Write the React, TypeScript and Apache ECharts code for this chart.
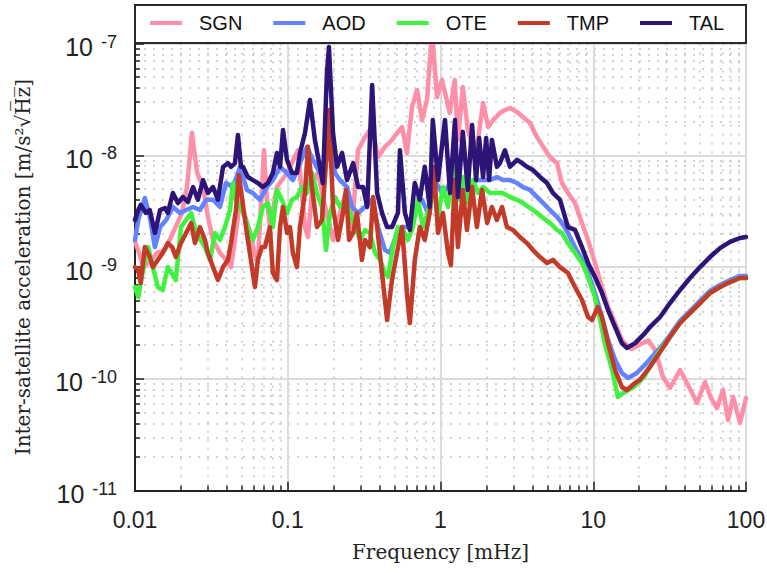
import React, { useEffect, useRef } from 'react';
import * as echarts from 'echarts';

const SERIES_NAMES = ['SGN', 'AOD', 'OTE', 'TMP', 'TAL'];
const SERIES_COLORS = ['#ff8fa9', '#6382ff', '#3ff23f', '#c23a28', '#2c1577'];
const X_TICK_LABELS = ['0.01', '0.1', '1', '10', '100'];
const Y_TICK_EXPONENTS = ['-11', '-10', '-9', '-8', '-7'];

const SGN_DATA = [
  [0.01, 1.7e-9], [0.0107, 1.3e-9], [0.0113, 1.0e-9], [0.0125, 1.11e-9], [0.0139, 1.34e-9], [0.0157, 1.42e-9],
  [0.0177, 2.02e-9], [0.0203, 3.05e-9], [0.0219, 5.2e-9], [0.0236, 1.58e-8], [0.0255, 6.95e-9], [0.0279, 5.2e-9],
  [0.03, 2.81e-9], [0.0324, 1.75e-9], [0.036, 1.34e-9], [0.0394, 1.16e-9], [0.0425, 1.0e-9], [0.0451, 1.75e-9],
  [0.0487, 4.0e-9], [0.0566, 2.02e-9], [0.061, 1.28e-9], [0.0637, 1.11e-9], [0.0699, 1.11e-8], [0.073, 4.0e-9],
  [0.0764, 2.28e-9], [0.085, 5.2e-9], [0.0989, 6.95e-9], [0.1167, 1.11e-8], [0.1296, 2.28e-9], [0.1357, 1.86e-9],
  [0.1463, 6.0e-9], [0.1578, 6.95e-9], [0.17, 4.24e-9], [0.1979, 1.75e-9], [0.2198, 3.05e-9], [0.2444, 5.2e-9],
  [0.2634, 2.28e-9], [0.2884, 1.11e-8], [0.3205, 1.46e-8], [0.356, 1.79e-8], [0.39, 9.65e-9], [0.433, 1.19e-8],
  [0.481, 1.37e-8], [0.519, 1.58e-8], [0.56, 1.79e-8], [0.603, 1.05e-8], [0.651, 2.71e-8], [0.702, 3.84e-8],
  [0.757, 2.07e-8], [0.816, 3.12e-8], [0.88, 1.3e-7], [0.949, 3.32e-8], [1.023, 4.72e-8], [1.15, 2.39e-8],
  [1.24, 4.72e-8], [1.3, 1.37e-8], [1.4, 4.08e-8], [1.51, 1.68e-8], [1.63, 1.19e-8], [1.76, 1.37e-8],
  [1.9, 2.94e-8], [2.05, 1.79e-8], [2.21, 2.07e-8], [2.45, 2.39e-8], [2.64, 2.54e-8], [2.85, 2.65e-8],
  [3.17, 2.44e-8], [3.47, 2.2e-8], [3.85, 1.95e-8], [4.28, 1.46e-8], [4.7, 1.19e-8], [5.21, 9.65e-9],
  [5.79, 8.5e-9], [6.24, 5.65e-9], [6.83, 4.6e-9], [7.59, 3.74e-9], [8.44, 2.48e-9], [9.24, 1.75e-9],
  [10.26, 1.09e-9], [11.4, 6.64e-10], [12.5, 4.4e-10], [13.9, 3.16e-10], [15.4, 2.23e-10], [16.6, 2.01e-10],
  [17.8, 1.85e-10], [21.1, 2.09e-10], [23.0, 2.2e-10], [25.4, 1.81e-10], [28.6, 1.04e-10], [31.8, 8.29e-11],
  [37, 1.2e-10], [41.7, 8.82e-11], [47.8, 6.09e-11], [53.9, 9.39e-11], [59, 6.75e-11], [64.6, 5.49e-11],
  [70.7, 7.96e-11], [76.3, 4.29e-11], [82.4, 6.89e-11], [91.3, 4.03e-11], [100, 6.75e-11],
];

const AOD_DATA = [
  [0.01, 1.75e-9], [0.0105, 2.64e-9], [0.0116, 4.15e-9], [0.0125, 2.81e-9], [0.0135, 1.51e-9], [0.0146, 2.28e-9],
  [0.016, 2.64e-9], [0.0177, 3.45e-9], [0.0197, 3.05e-9], [0.0216, 3.24e-9], [0.024, 3.45e-9], [0.0266, 3.24e-9],
  [0.0292, 4.0e-9], [0.0324, 4.0e-9], [0.036, 3.45e-9], [0.0394, 5.65e-9], [0.0438, 5.2e-9], [0.0487, 7.86e-9],
  [0.0541, 4.9e-9], [0.0591, 4.6e-9], [0.0657, 4.0e-9], [0.073, 5.2e-9], [0.0799, 6.0e-9], [0.089, 7.86e-9],
  [0.0989, 6.95e-9], [0.1081, 6.0e-9], [0.1202, 8.5e-9], [0.1336, 1.19e-8], [0.1463, 9.08e-9], [0.1623, 6.95e-9],
  [0.1805, 9.08e-9], [0.189, 1.37e-8], [0.2037, 6.95e-9], [0.2198, 6.0e-9], [0.2444, 5.2e-9], [0.2634, 3.45e-9],
  [0.2884, 3.05e-9], [0.3205, 3.45e-9], [0.356, 4.0e-9], [0.39, 2.28e-9], [0.433, 1.42e-9], [0.467, 1.34e-9],
  [0.519, 2.02e-9], [0.56, 2.28e-9], [0.612, 2.28e-9], [0.679, 3.45e-9], [0.757, 4.0e-9], [0.826, 3.05e-9],
  [0.916, 6.0e-9], [1.023, 4.6e-9], [1.12, 5.2e-9], [1.21, 6.95e-9], [1.28, 4.9e-9], [1.4, 6.0e-9],
  [1.56, 5.2e-9], [1.73, 6.0e-9], [1.9, 6.0e-9], [2.11, 6.0e-9], [2.34, 6.4e-9], [2.56, 6.0e-9],
  [2.85, 6.0e-9], [3.17, 5.65e-9], [3.47, 5.2e-9], [3.85, 4.9e-9], [4.28, 4.24e-9], [4.7, 3.74e-9],
  [5.21, 3.24e-9], [5.79, 2.81e-9], [6.24, 2.48e-9], [6.83, 2.02e-9], [7.59, 1.51e-9], [8.44, 1.16e-9],
  [9.24, 8.86e-10], [10.26, 5.87e-10], [11.4, 3.58e-10], [12.5, 2.23e-10], [13.9, 1.48e-10], [15.4, 1.13e-10],
  [16.9, 1.02e-10], [19.3, 1.13e-10], [22.4, 1.39e-10], [25.4, 1.7e-10], [27.4, 1.89e-10], [31.8, 2.47e-10],
  [37, 3.3e-10], [43, 4.05e-10], [50, 4.98e-10], [58.1, 6.12e-10], [67.6, 6.92e-10], [78.6, 7.66e-10],
  [91.3, 8.34e-10], [100, 8.34e-10],
];

const OTE_DATA = [
  [0.01, 6.64e-10], [0.0105, 5.4e-10], [0.0113, 9.4e-10], [0.0122, 1.51e-9], [0.0131, 1.0e-9], [0.0141, 6.64e-10],
  [0.0152, 6.24e-10], [0.0164, 1.0e-9], [0.0177, 8.5e-10], [0.0185, 7.66e-10], [0.02, 2.28e-9], [0.0216, 2.64e-9],
  [0.0233, 3.05e-9], [0.0251, 2.02e-9], [0.0287, 1.51e-9], [0.031, 1.16e-9], [0.0334, 2.02e-9], [0.036, 1.75e-9],
  [0.0388, 2.28e-9], [0.0419, 3.24e-9], [0.0438, 5.65e-9], [0.0458, 4.0e-9], [0.0487, 3.45e-9], [0.0525, 2.81e-9],
  [0.0566, 2.02e-9], [0.0591, 1.75e-9], [0.0637, 2.28e-9], [0.0687, 3.45e-9], [0.0741, 3.74e-9], [0.0799, 2.28e-9],
  [0.085, 4.9e-9], [0.0916, 4.0e-9], [0.0989, 3.05e-9], [0.1066, 4.0e-9], [0.1149, 4.24e-9], [0.1239, 5.2e-9],
  [0.1336, 4.6e-9], [0.1441, 6.95e-9], [0.1554, 4.6e-9], [0.1675, 3.45e-9], [0.178, 1.42e-9], [0.189, 3.05e-9],
  [0.2037, 4.24e-9], [0.2198, 3.45e-9], [0.237, 4.0e-9], [0.2555, 3.05e-9], [0.2756, 2.28e-9], [0.2972, 1.75e-9],
  [0.3205, 2.15e-9], [0.3456, 2.02e-9], [0.3727, 1.34e-9], [0.4019, 1.16e-9], [0.433, 8.86e-10], [0.453, 8.16e-10],
  [0.489, 1.51e-9], [0.527, 2.28e-9], [0.568, 2.15e-9], [0.612, 1.75e-9], [0.66, 2.28e-9], [0.712, 4.0e-9],
  [0.768, 2.28e-9], [0.826, 3.05e-9], [0.893, 5.2e-9], [0.963, 2.81e-9], [1.038, 5.2e-9], [1.12, 3.45e-9],
  [1.21, 7.86e-9], [1.3, 4.0e-9], [1.4, 6.4e-9], [1.51, 3.74e-9], [1.63, 6.0e-9], [1.76, 4.6e-9],
  [1.9, 5.2e-9], [2.11, 4.6e-9], [2.34, 4.6e-9], [2.56, 4.6e-9], [2.85, 4.24e-9], [3.17, 4.0e-9],
  [3.47, 3.74e-9], [3.85, 3.38e-9], [4.28, 3.05e-9], [4.7, 2.75e-9], [5.21, 2.48e-9], [5.79, 2.15e-9],
  [6.24, 2.02e-9], [6.83, 1.64e-9], [7.59, 1.34e-9], [8.44, 1.09e-9], [9.24, 8.16e-10], [10.26, 5.4e-10],
  [11.0, 3.58e-10], [11.9, 2.09e-10], [13.3, 1.2e-10], [14.5, 6.89e-11], [15.7, 7.49e-11], [18.4, 8.46e-11],
  [21.5, 1.04e-10], [24.3, 1.39e-10], [27.4, 1.81e-10], [31.8, 2.37e-10], [37, 3.16e-10], [43, 3.89e-10],
  [50, 4.77e-10], [58.1, 5.87e-10], [67.6, 6.64e-10], [78.6, 7.35e-10], [91.3, 7.99e-10], [100, 7.99e-10],
];

const TMP_DATA = [
  [0.01, 1.0e-9], [0.0105, 9.4e-10], [0.0109, 7.21e-10], [0.0116, 1.51e-9], [0.0125, 1.23e-9], [0.0131, 1.0e-9],
  [0.0141, 1.16e-9], [0.0152, 1.34e-9], [0.0164, 1.64e-9], [0.0175, 1.51e-9], [0.0185, 1.23e-9], [0.02, 1.64e-9],
  [0.0216, 2.02e-9], [0.0233, 2.48e-9], [0.0247, 1.64e-9], [0.0266, 2.28e-9], [0.0287, 1.75e-9], [0.03, 1.34e-9],
  [0.0324, 1.0e-9], [0.0349, 7.66e-10], [0.0377, 1.0e-9], [0.0406, 1.16e-9], [0.0425, 1.64e-9], [0.0458, 3.24e-9],
  [0.0479, 6.67e-9], [0.0509, 3.6e-9], [0.0525, 2.64e-9], [0.0548, 1.75e-9], [0.0583, 1.0e-9], [0.061, 6.64e-10],
  [0.0637, 1.16e-9], [0.0676, 1.51e-9], [0.0709, 1.51e-9], [0.0764, 2.28e-9], [0.0799, 8.86e-10], [0.085, 7.66e-10],
  [0.089, 2.28e-9], [0.0931, 3.45e-9], [0.0989, 2.02e-9], [0.1034, 2.28e-9], [0.1081, 1.34e-9], [0.1149, 1.0e-9],
  [0.1202, 2.28e-9], [0.1296, 4.6e-9], [0.1357, 1.19e-8], [0.1441, 5.2e-9], [0.1554, 2.28e-9], [0.1675, 2.64e-9],
  [0.178, 8.5e-9], [0.1861, 2.54e-8], [0.1979, 3.45e-9], [0.2133, 1.75e-9], [0.23, 3.05e-9], [0.2407, 4.9e-9],
  [0.252, 1.75e-9], [0.268, 2.02e-9], [0.284, 3.05e-9], [0.306, 1.16e-9], [0.3205, 1.75e-9], [0.3456, 1.51e-9],
  [0.362, 4.24e-9], [0.385, 2.28e-9], [0.414, 8.86e-10], [0.447, 3.36e-10], [0.481, 7.66e-10], [0.519, 1.34e-9],
  [0.56, 2.28e-9], [0.603, 5.87e-10], [0.63, 3.16e-10], [0.679, 1.16e-9], [0.732, 2.28e-9], [0.789, 1.75e-9],
  [0.85, 3.05e-9], [0.907, 7.86e-9], [0.963, 2.02e-9], [1.038, 3.05e-9], [1.12, 1.34e-9], [1.17, 1.04e-9],
  [1.24, 6.0e-9], [1.3, 1.51e-9], [1.4, 4.9e-9], [1.49, 2.15e-9], [1.61, 5.2e-9], [1.73, 2.28e-9],
  [1.87, 4.9e-9], [2.02, 2.48e-9], [2.17, 3.45e-9], [2.34, 2.64e-9], [2.53, 3.45e-9], [2.72, 2.28e-9],
  [2.98, 2.15e-9], [3.31, 1.86e-9], [3.68, 1.64e-9], [4.03, 1.42e-9], [4.48, 1.23e-9], [4.98, 1.09e-9],
  [5.45, 1.16e-9], [6.06, 1.0e-9], [6.83, 8.86e-10], [7.59, 6.64e-10], [8.44, 5.08e-10], [9.24, 3.58e-10],
  [9.81, 3.36e-10], [10.7, 4.4e-10], [11.4, 3.58e-10], [12.5, 2.09e-10], [13.9, 1.2e-10], [15.4, 8.46e-11],
  [16.6, 7.96e-11], [18.8, 9.2e-11], [20.2, 9.78e-11], [23.5, 1.28e-10], [27.4, 1.74e-10], [31.8, 2.37e-10],
  [37, 3.16e-10], [43, 3.89e-10], [50, 4.77e-10], [58.1, 5.87e-10], [67.6, 6.64e-10], [78.6, 7.35e-10],
  [91.3, 7.99e-10], [100, 7.99e-10],
];

const TAL_DATA = [
  [0.01, 2.64e-9], [0.0105, 3.24e-9], [0.0109, 3.6e-9], [0.0118, 3.05e-9], [0.0125, 3.24e-9], [0.0135, 2.02e-9],
  [0.0146, 3.24e-9], [0.0157, 3.38e-9], [0.0164, 3.05e-9], [0.0177, 4.6e-9], [0.0191, 3.74e-9], [0.0206, 4.24e-9],
  [0.0222, 3.82e-9], [0.024, 5.2e-9], [0.0258, 4.0e-9], [0.0279, 6.0e-9], [0.03, 4.6e-9], [0.0324, 5.2e-9],
  [0.0349, 4.0e-9], [0.0377, 7.86e-9], [0.0406, 8.5e-9], [0.0425, 7.9e-9], [0.0451, 8.5e-9], [0.0472, 1.52e-8],
  [0.0494, 7.9e-9], [0.0509, 7.9e-9], [0.0548, 6.4e-9], [0.0591, 6.0e-9], [0.0637, 5.65e-9], [0.0687, 5.2e-9],
  [0.0741, 5.65e-9], [0.0799, 6.95e-9], [0.085, 1.05e-8], [0.089, 7.9e-9], [0.0931, 1.68e-8], [0.0989, 9.08e-9],
  [0.1066, 6.95e-9], [0.1149, 6.95e-9], [0.1202, 1.05e-8], [0.1296, 1.58e-8], [0.1398, 3.12e-8], [0.1506, 1.37e-8],
  [0.1623, 7.9e-9], [0.1697, 5.65e-9], [0.1805, 5.45e-8], [0.1861, 9.3e-8], [0.1979, 1.58e-8], [0.2103, 7.9e-9],
  [0.2268, 1.05e-8], [0.2444, 6.0e-9], [0.2681, 8.5e-9], [0.2889, 5.2e-9], [0.3114, 5.2e-9], [0.3312, 3.45e-9],
  [0.3569, 4.25e-8], [0.3846, 4.6e-9], [0.4145, 3.05e-9], [0.4467, 2.28e-9], [0.4814, 2.28e-9], [0.5265, 3.05e-9],
  [0.5425, 1.11e-8], [0.5847, 3.05e-9], [0.6301, 2.15e-9], [0.679, 5.65e-9], [0.7318, 4.0e-9], [0.7886, 7.9e-9],
  [0.8498, 3.45e-9], [0.8904, 2.07e-8], [0.963, 6.0e-9], [1.07, 2.07e-8], [1.154, 4.6e-9], [1.244, 2.07e-8],
  [1.3, 4.24e-9], [1.4, 1.62e-8], [1.51, 4.9e-9], [1.61, 1.87e-8], [1.71, 6.0e-9], [1.79, 1.43e-8],
  [1.9, 6.4e-9], [1.99, 1.43e-8], [2.08, 6.0e-9], [2.17, 1.37e-8], [2.34, 7.9e-9], [2.45, 8.5e-9],
  [2.64, 1.11e-8], [2.85, 7.9e-9], [3.17, 9.1e-9], [3.42, 8.5e-9], [3.68, 7.9e-9], [4.03, 7.39e-9],
  [4.48, 6.4e-9], [4.98, 5.65e-9], [5.45, 4.6e-9], [6.06, 4.0e-9], [6.83, 2.28e-9], [7.59, 2.15e-9],
  [8.44, 1.51e-9], [9.24, 1.09e-9], [10.26, 8.16e-10], [11.4, 5.87e-10], [12.5, 4.13e-10], [13.9, 2.91e-10],
  [15.4, 2.09e-10], [16.6, 1.89e-10], [18.8, 2.09e-10], [21.8, 2.57e-10], [23.5, 2.91e-10], [27.4, 3.58e-10],
  [31.8, 4.77e-10], [37, 6.24e-10], [43, 7.99e-10], [50, 1.0e-9], [58.1, 1.23e-9], [67.6, 1.48e-9],
  [78.6, 1.68e-9], [91.3, 1.82e-9], [100, 1.86e-9],
];

const SERIES_DATA = [SGN_DATA, AOD_DATA, OTE_DATA, TMP_DATA, TAL_DATA];

export default function App() {
  const ref = useRef<HTMLDivElement>(null);
  useEffect(() => {
    document.body.style.margin = '0';
    const chart = echarts.init(ref.current as HTMLDivElement, null, { renderer: 'svg' });
    const axisCommon = {
      type: 'log',
      logBase: 10,
      axisLine: { show: true, onZero: false, lineStyle: { color: '#222', width: 2 } },
      axisTick: { show: true, inside: true, length: 9, lineStyle: { color: '#222', width: 1.5 } },
      minorTick: { show: true, splitNumber: 9, length: 5, lineStyle: { color: '#222', width: 1.5 } },
      splitLine: { show: true, lineStyle: { color: '#dcdcdc', width: 2 } },
      minorSplitLine: { show: true, lineStyle: { color: '#c4c4c4', width: 1.5, type: [2, 7] } },
    };
    chart.setOption({
      animation: false,
      backgroundColor: '#ffffff',
      grid: { left: 135, right: 21, top: 43.5, bottom: 82.3, containLabel: false, outerBoundsMode: 'none' },
      legend: {
        data: SERIES_NAMES,
        left: 150,
        top: 13,
        padding: 0,
        icon: 'rect',
        itemWidth: 32,
        itemHeight: 4,
        itemGap: 31,
        textStyle: { fontFamily: 'Liberation Sans', fontSize: 20, color: '#111', padding: [0, 0, 0, 12] },
      },
      graphic: [
        {
          type: 'rect',
          z: 3,
          shape: { x: 135, y: 5, width: 611, height: 38 },
          style: { fill: '#ffffff', stroke: '#2a2a2a', lineWidth: 2 },
        },
      ],
      xAxis: {
        ...axisCommon,
        min: 0.01,
        max: 100,
        name: 'Frequency [mHz]',
        nameLocation: 'middle',
        nameGap: 51,
        nameTextStyle: { fontFamily: 'DejaVu Serif', fontSize: 20, color: '#222' },
        axisLabel: {
          fontFamily: 'Liberation Sans',
          fontSize: 23,
          color: '#222',
          margin: 18,
          formatter: (v: number) => X_TICK_LABELS[Math.round(Math.log10(v)) + 2] ?? '',
        },
      },
      yAxis: {
        ...axisCommon,
        min: 1e-11,
        max: 1e-7,
        name: 'Inter-satellite acceleration [m/s\u00B2\u221AH\u0305z\u0305]',
        nameLocation: 'middle',
        nameGap: 102,
        nameRotate: 90,
        nameTextStyle: { fontFamily: 'DejaVu Serif', fontSize: 20, color: '#222' },
        axisLabel: {
          margin: 18,
          color: '#222',
          formatter: (v: number) => `{b|10}{s|${Y_TICK_EXPONENTS[Math.round(Math.log10(v)) + 11] ?? ''}}`,
          rich: {
            b: { fontFamily: 'Liberation Sans', fontSize: 25, lineHeight: 32, verticalAlign: 'bottom', color: '#222' },
            s: { fontFamily: 'Liberation Sans', fontSize: 18, lineHeight: 18, verticalAlign: 'top', color: '#222', padding: [5, 0, 0, 8] },
          },
        },
      },
      series: SERIES_NAMES.map((name, i) => ({
        name,
        type: 'line',
        data: SERIES_DATA[i],
        showSymbol: false,
        symbol: 'none',
        clip: true,
        z: 2,
        itemStyle: { color: SERIES_COLORS[i] },
        lineStyle: { color: SERIES_COLORS[i], width: 4.5, cap: 'round', join: 'round' },
      })),
    });
    return () => chart.dispose();
  }, []);
  return <div ref={ref} style={{ width: 767, height: 573 }} />;
}
